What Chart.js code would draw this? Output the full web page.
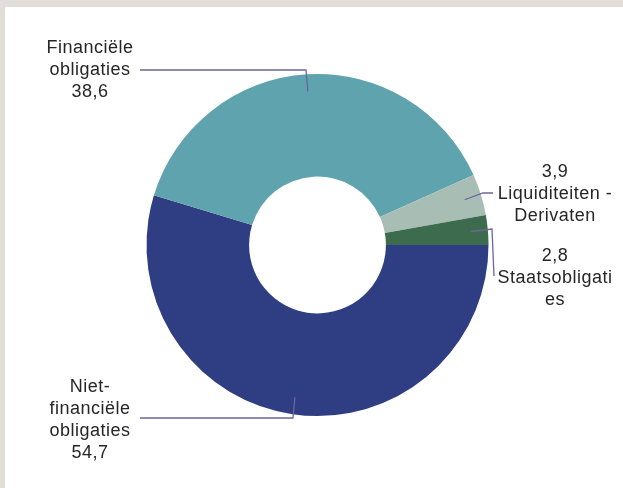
<!DOCTYPE html>
<html>
<head>
<meta charset="utf-8">
<script src="https://cdn.jsdelivr.net/npm/chart.js@4"></script>
<style>
    html, body { margin: 0; padding: 0; }
    body { background: #e2ddd8; width: 623px; height: 488px; overflow: hidden; }
    #panel { position: absolute; left: 5px; top: 7px; width: 618px; height: 481px; background: #fff; }
</style>
</head>
<body>
<div id="panel"><canvas id="portfolio" width="618" height="481"></canvas></div>
<script>
// Portfolio breakdown (%)
const categories = ['Niet-financiële obligaties', 'Financiële obligaties', 'Liquiditeiten - Derivaten', 'Staatsobligaties'];
const values = [54.7, 38.6, 3.9, 2.8];
const colors = ['#2f3e82', '#5ea3ae', '#a8bdb4', '#3d6b4d'];

// Label text as wrapped in the callouts; the value line is filled in from values
const labelLines = [
    ['Niet-', 'financiële', 'obligaties', '{v}'],
    ['Financiële', 'obligaties', '{v}'],
    ['{v}', 'Liquiditeiten -', 'Derivaten'],
    ['{v}', 'Staatsobligati', 'es']
];

// Callout layout: text centre, line step, and leader path after the anchor
const callouts = [
    { x: 85, y: 380, path: [[288, 411], [135, 411]] },
    { x: 85, y: 41, path: [[301, 63], [135, 63]] },
    { x: 550, y: 165, path: [[478, 186], [488, 186]] },
    { x: 550, y: 249, path: [[487, 222], [489, 269]] }
];

const fmt = v => v.toFixed(1).replace('.', ',');

const calloutPlugin = {
    id: 'callouts',
    afterDraw(chart) {
        const ctx = chart.ctx;
        const arcs = chart.getDatasetMeta(0).data;
        ctx.save();
        arcs.forEach((arc, i) => {
            const mid = (arc.startAngle + arc.endAngle) / 2;
            const r = arc.outerRadius * 0.9;
            const ax = arc.x + Math.cos(mid) * r;
            const ay = arc.y + Math.sin(mid) * r;
            const c = callouts[i];

            ctx.strokeStyle = '#6b6699';
            ctx.lineWidth = 1.3;
            ctx.beginPath();
            ctx.moveTo(ax, ay);
            c.path.forEach(p => ctx.lineTo(p[0], p[1]));
            ctx.stroke();

            ctx.fillStyle = '#262626';
            ctx.font = '18px "Liberation Sans", Arial, sans-serif';
            ctx.letterSpacing = '0.5px';
            ctx.textAlign = 'center';
            ctx.textBaseline = 'middle';
            labelLines[i].forEach((line, j) => {
                const txt = line.replace('{v}', fmt(values[i]));
                ctx.fillText(txt, c.x, c.y + j * 22);
            });
        });
        ctx.restore();
    }
};

new Chart(document.getElementById('portfolio'), {
    type: 'doughnut',
    data: {
        labels: categories,
        datasets: [{
            data: values,
            backgroundColor: colors,
            borderWidth: 0
        }]
    },
    options: {
        responsive: false,
        animation: false,
        rotation: 90,
        cutout: '40%',
        layout: { padding: { left: 141.5, right: 134.5, top: 67, bottom: 72 } },
        plugins: {
            legend: { display: false },
            tooltip: { enabled: false }
        }
    },
    plugins: [calloutPlugin]
});
</script>
</body>
</html>
